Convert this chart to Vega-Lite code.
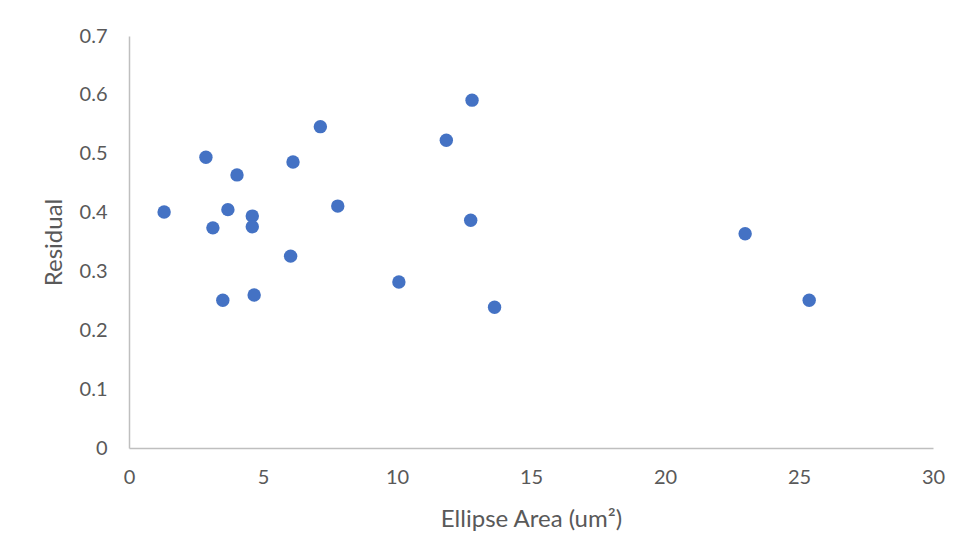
{
  "$schema": "https://vega.github.io/schema/vega-lite/v6.json",
  "autosize": "none",
  "width": 804,
  "height": 412,
  "padding": {"left": 129, "top": 36, "right": 34, "bottom": 111},
  "background": "white",
  "config": {
    "view": {"stroke": null},
    "font": "Lato",
    "axis": {
      "grid": false,
      "ticks": false,
      "domainColor": "#BFBFBF",
      "domainWidth": 1.5,
      "labelColor": "#595959",
      "titleColor": "#595959",
      "labelFontSize": 20,
      "titleFontSize": 24,
      "labelFont": "Lato",
      "titleFont": "Lato",
      "titleFontWeight": "normal"
    }
  },
  "data": {
    "values": [
      {"area": 1.31, "residual": 0.401},
      {"area": 2.87, "residual": 0.494},
      {"area": 3.13, "residual": 0.374},
      {"area": 3.50, "residual": 0.251},
      {"area": 3.69, "residual": 0.405},
      {"area": 4.03, "residual": 0.464},
      {"area": 4.60, "residual": 0.394},
      {"area": 4.60, "residual": 0.376},
      {"area": 4.67, "residual": 0.260},
      {"area": 6.03, "residual": 0.326},
      {"area": 6.12, "residual": 0.486},
      {"area": 7.14, "residual": 0.546},
      {"area": 7.79, "residual": 0.411},
      {"area": 10.07, "residual": 0.282},
      {"area": 11.84, "residual": 0.523},
      {"area": 12.80, "residual": 0.591},
      {"area": 12.75, "residual": 0.387},
      {"area": 13.64, "residual": 0.239},
      {"area": 22.99, "residual": 0.364},
      {"area": 25.38, "residual": 0.251}
    ]
  },
  "mark": {"type": "circle", "size": 180, "color": "#4472C4", "opacity": 1},
  "encoding": {
    "x": {
      "field": "area",
      "type": "quantitative",
      "title": "Ellipse Area (um²)",
      "scale": {"domain": [0, 30], "nice": false, "zero": true},
      "axis": {"values": [0, 5, 10, 15, 20, 25, 30], "labelPadding": 19, "titlePadding": 20, "labelFlush": false}
    },
    "y": {
      "field": "residual",
      "type": "quantitative",
      "title": "Residual",
      "scale": {"domain": [0, 0.7], "nice": false},
      "axis": {"values": [0, 0.1, 0.2, 0.3, 0.4, 0.5, 0.6, 0.7], "format": "~g", "labelPadding": 22, "titlePadding": 13, "labelFlush": false}
    }
  }
}
